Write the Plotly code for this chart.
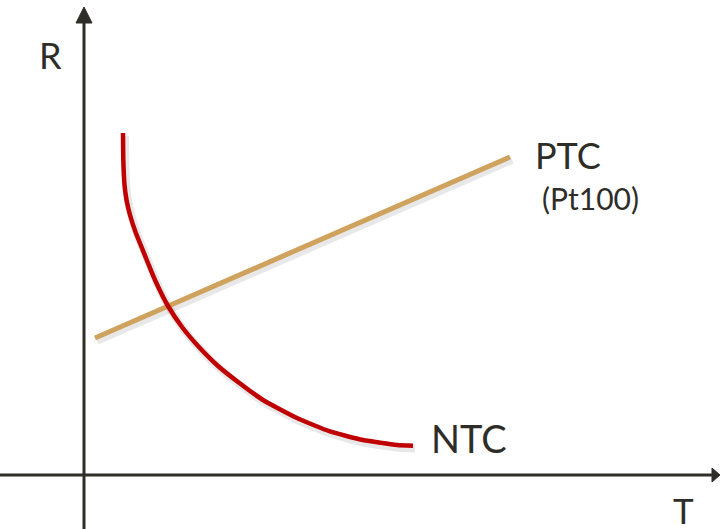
import plotly.graph_objects as go

# Resistance vs temperature (arbitrary units)
ntc_T = [9.75, 9.83, 10.13, 10.63, 11.5, 12.88, 14.38, 17.75, 21.0, 24.5, 28.5,
         33.5, 38.5, 44.75, 53.25, 61.5, 69.75, 78.25, 82.25]
ntc_R = [85.5, 78.75, 72.5, 68.75, 65.0, 60.75, 57.0, 48.75, 42.25, 37.0, 32.25,
         27.25, 23.25, 18.75, 14.25, 10.9, 8.75, 7.5, 7.3]

ptc_T = [2.75, 106.5]
ptc_R = [34.25, 79.5]

axis_labels = ["T", "R"]
curve_labels = ["PTC", "(Pt100)", "NTC"]

RED = "#C00000"
TAN = "#CFA25E"
INK = "#2E2D27"
FONT = "Lato, 'Open Sans', sans-serif"

fig = go.Figure()

# soft drop shadows under the curves
for xs, ys in ((ptc_T, ptc_R), (ntc_T, ntc_R)):
    fig.add_trace(go.Scatter(
        x=[v + 0.5 for v in xs], y=[v - 0.7 for v in ys],
        mode="lines", line=dict(color="rgba(0,0,0,0.09)", width=8, shape="spline", smoothing=0.5),
        hoverinfo="skip", showlegend=False))

fig.add_trace(go.Scatter(x=ptc_T, y=ptc_R, mode="lines",
                         line=dict(color=TAN, width=5), showlegend=False))
fig.add_trace(go.Scatter(x=ntc_T, y=ntc_R, mode="lines",
                         line=dict(color=RED, width=4.5, shape="spline", smoothing=0.5),
                         showlegend=False))

# axes with arrowheads
shapes = [
    dict(type="line", x0=0, x1=0, y0=-14, y1=113.5, line=dict(color=INK, width=3)),
    dict(type="line", x0=-22, x1=157.5, y0=0, y1=0, line=dict(color=INK, width=3)),
    dict(type="path", path="M -2,113 L 2,113 L 0,117 Z",
         fillcolor=INK, line=dict(color=INK, width=1)),
    dict(type="path", path="M 157,1.75 L 157,-1.75 L 159,0 Z",
         fillcolor=INK, line=dict(color=INK, width=1)),
]

annotations = [
    dict(x=-8.5, y=105, text=axis_labels[1], font=dict(size=36)),
    dict(x=149.75, y=-8.75, text=axis_labels[0], font=dict(size=35)),
    dict(x=121, y=80, text=curve_labels[0], font=dict(size=36)),
    dict(x=126.5, y=69.25, text=curve_labels[1], font=dict(size=30)),
    dict(x=96.25, y=9.25, text=curve_labels[2], font=dict(size=38)),
]
for a in annotations:
    a.update(xref="x", yref="y", showarrow=False)
    a["font"].update(family=FONT, color=INK)

fig.update_layout(
    width=720, height=529,
    margin=dict(l=0, r=0, t=0, b=0),
    paper_bgcolor="white", plot_bgcolor="white",
    xaxis=dict(range=[-21, 159], visible=False, fixedrange=True),
    yaxis=dict(range=[-13.5, 118.75], visible=False, fixedrange=True),
    shapes=shapes, annotations=annotations,
)

fig.write_html("out.html")
